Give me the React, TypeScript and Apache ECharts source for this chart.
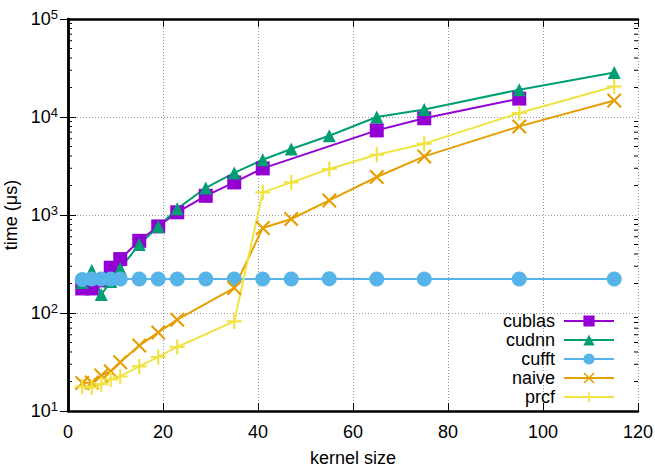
import React, { useEffect, useRef } from "react";
import * as echarts from "echarts";

const kernelSizes = [3, 5, 7, 9, 11, 15, 19, 23, 29, 35, 41, 47, 55, 65, 75, 95, 115];
const cublas = [178, 178, 215, 290, 355, 545, 765, 1065, 1570, 2150, 2990, null, null, 7300, 9700, 15400, null];
const cudnn = [205, 272, 154, 210, 285, 500, 765, 1160, 1890, 2690, 3660, 4710, 6440, 10000, 11900, 19000, 28500];
const cufft = [220, 222, 222, 222, 222, 222, 222, 222, 222, 222, 222, 222, 224, 222, 222, 222, 222];
const naive = [19.3, 19.5, 23, 25.4, 31.5, 46.5, 63.4, 85.5, null, 180, 736, 910, 1410, 2443, 3963, 8020, 14760];
const prcf = [17.8, 17.4, 18.8, 21, 22.5, 28.5, 35.6, 45, null, 82, 1702, 2152, 2945, 4120, 5345, 10990, 20500];
const minorTickValues = [20, 30, 40, 50, 60, 70, 80, 90, 200, 300, 400, 500, 600, 700, 800, 900, 2000, 3000, 4000, 5000, 6000, 7000, 8000, 9000, 20000, 30000, 40000, 50000, 60000, 70000, 80000, 90000];

const FONT = "Liberation Sans";
const PLUS = "path://M6,0 H8 V6 H14 V8 H8 V14 H6 V8 H0 V6 H6 Z";
const CROSS = "path://M0,1.4 L1.4,0 L7,5.6 L12.6,0 L14,1.4 L8.4,7 L14,12.6 L12.6,14 L7,8.4 L1.4,14 L0,12.6 L5.6,7 Z";

function pairs(vals: (number | null)[]) {
  const out: [number, number][] = [];
  vals.forEach((v, i) => {
    if (v !== null) out.push([kernelSizes[i], v]);
  });
  return out;
}

export default function App() {
  const ref = useRef<HTMLDivElement>(null);
  useEffect(() => {
    if (!ref.current) return;
    const chart = echarts.init(ref.current, undefined, { renderer: "svg" });
    const lineSeries = (name: string, vals: (number | null)[], color: string, symbol: string, size: number) => ({
      name,
      type: "line",
      data: pairs(vals),
      symbol,
      symbolSize: size,
      showAllSymbol: true,
      lineStyle: { color, width: 2 },
      itemStyle: { color, borderWidth: 0 },
      emphasis: { disabled: true },
      z: 3,
    });
    chart.setOption({
      animation: false,
      textStyle: { fontFamily: FONT },
      grid: { left: 68, right: 17, top: 19, bottom: 57, show: false, containLabel: false, outerBoundsMode: "none" },
      legend: {
        orient: "vertical",
        right: 40,
        top: 312,
        padding: 0,
        align: "right",
        itemWidth: 50,
        itemHeight: 14,
        itemGap: 1,
        data: ["cublas", "cudnn", "cufft", "naive", "prcf"],
        textStyle: { fontSize: 18, color: "#000", fontFamily: FONT, padding: [0, 4, 0, 0] },
      },
      xAxis: [
        {
          type: "value",
          min: 0,
          max: 120,
          interval: 20,
          name: "kernel size",
          nameLocation: "middle",
          nameGap: 38,
          nameTextStyle: { fontSize: 18, color: "#000", fontFamily: FONT },
          axisLine: { show: true, lineStyle: { color: "#000", width: 2.5 } },
          axisTick: { show: true, inside: true, length: 8, lineStyle: { color: "#000", width: 1 } },
          axisLabel: { fontSize: 18, color: "#000", margin: 12, fontFamily: FONT },
          splitLine: { show: true, lineStyle: { color: "#999", type: [1, 2], width: 1 } },
        },
        {
          type: "value",
          position: "top",
          min: 0,
          max: 120,
          interval: 20,
          axisLine: { show: true, lineStyle: { color: "#000", width: 2.5 } },
          axisTick: { show: true, inside: true, length: 8, lineStyle: { color: "#000", width: 1 } },
          axisLabel: { show: false },
          splitLine: { show: false },
        },
      ],
      yAxis: [
        {
          type: "log",
          logBase: 10,
          min: 10,
          max: 100000,
          name: "time (μs)",
          nameLocation: "middle",
          nameGap: 38,
          nameTextStyle: { fontSize: 18, color: "#000", fontFamily: FONT },
          axisLine: { show: true, lineStyle: { color: "#000", width: 2.5 } },
          axisTick: { show: true, inside: true, length: 8, lineStyle: { color: "#000", width: 1 } },
          axisLabel: {
            margin: 10,
            formatter: (v: number) => `{b|10}{s|${Math.round(Math.log10(v))}}`,
            rich: {
              b: { fontSize: 18, color: "#000", fontFamily: FONT },
              s: { fontSize: 13, color: "#000", fontFamily: FONT, padding: [0, 0, 10, 0] },
            },
          },
          splitLine: { show: true, lineStyle: { color: "#999", type: [1, 2], width: 1 } },
        },
        {
          type: "log",
          logBase: 10,
          min: 10,
          max: 100000,
          position: "right",
          axisLine: { show: true, lineStyle: { color: "#000", width: 2.5 } },
          axisTick: { show: true, inside: true, length: 8, lineStyle: { color: "#000", width: 1 } },
          axisLabel: { show: false },
          splitLine: { show: false },
        },
      ],
      series: [
        lineSeries("cublas", cublas, "#9400d3", "rect", 14),
        lineSeries("cudnn", cudnn, "#009e73", "triangle", 13),
        lineSeries("cufft", cufft, "#56b4e9", "circle", 15),
        lineSeries("naive", naive, "#e69f00", CROSS, 15),
        lineSeries("prcf", prcf, "#f0e442", PLUS, 15),
        {
          name: "minorTicks",
          type: "custom",
          data: minorTickValues.map((v) => [0, v]),
          clip: false,
          silent: true,
          z: 5,
          renderItem: (params: any, api: any) => {
            const v = api.value(1);
            const pl = api.coord([0, v]);
            const pr = api.coord([120, v]);
            const st = { stroke: "#000", lineWidth: 1 };
            return {
              type: "group",
              children: [
                { type: "line", shape: { x1: pl[0], y1: pl[1], x2: pl[0] + 4, y2: pl[1] }, style: st },
                { type: "line", shape: { x1: pr[0] - 4, y1: pr[1], x2: pr[0], y2: pr[1] }, style: st },
              ],
            };
          },
        },
      ],
    });
    return () => chart.dispose();
  }, []);
  return <div ref={ref} style={{ width: 655, height: 468, position: "absolute", left: 0, top: 0, background: "#fff" }} />;
}
